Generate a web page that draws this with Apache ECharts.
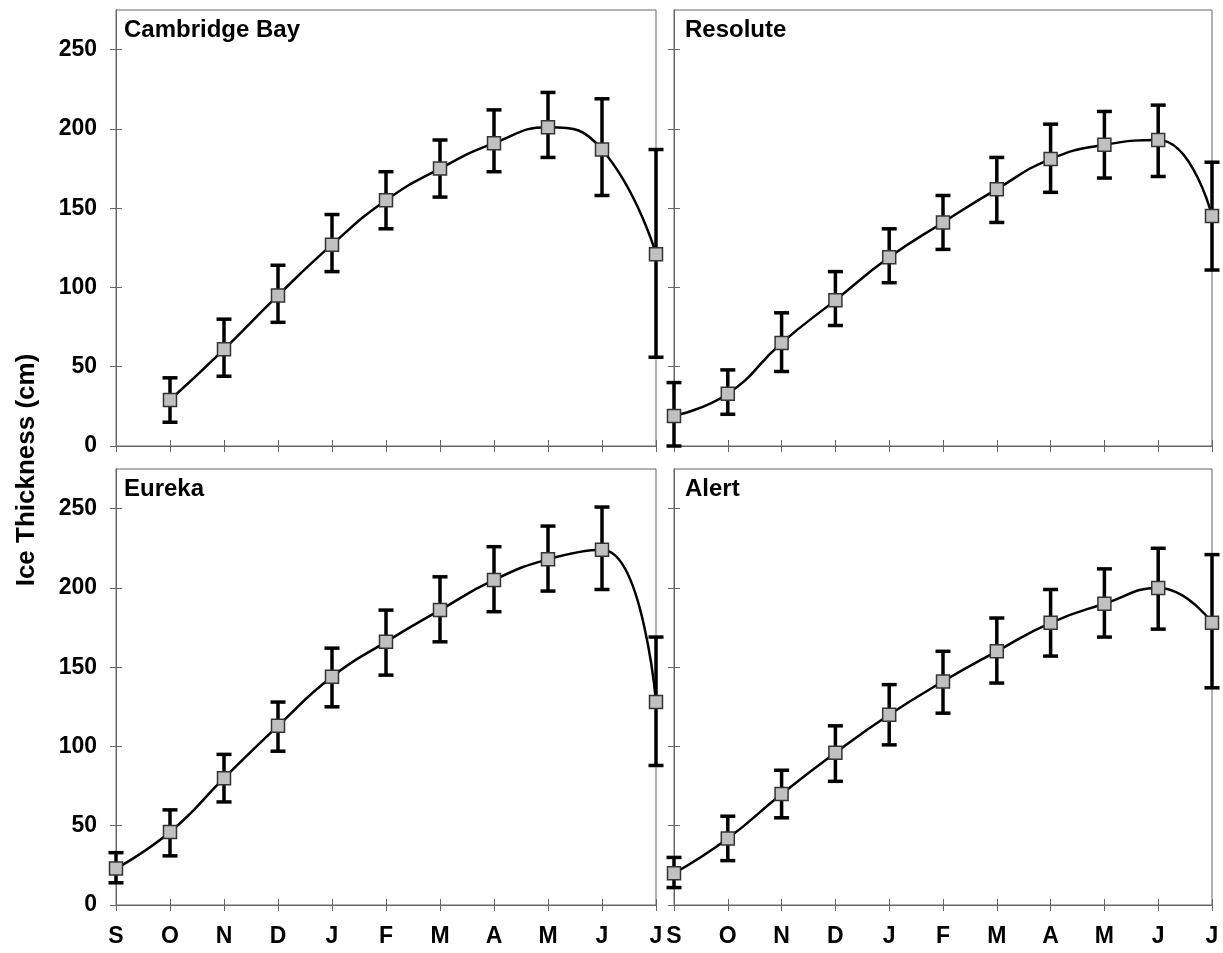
<!DOCTYPE html>
<html lang="en">
<head>
  <meta charset="UTF-8">
  <title>Ice Thickness</title>
  <script src="https://cdnjs.cloudflare.com/ajax/libs/echarts/6.0.0/echarts.min.js"></script>
  <style>
    body { margin: 0; background: #fff; }
    #main { width: 1223px; height: 953px; }
  </style>
</head>
<body>
  <div id="main"></div>
<script>
  // months Sept -> July
  const months = ['S', 'O', 'N', 'D', 'J', 'F', 'M', 'A', 'M', 'J', 'J'];
  const yTicks = [0, 50, 100, 150, 200, 250];
  const stations = ['Cambridge Bay', 'Resolute', 'Eureka', 'Alert'];

  // mean thickness (cm) and error bar ends
  const cambMean = [null, 29, 61, 95, 127, 155, 175, 191, 201, 187, 121];
  const cambLow  = [null, 15, 44, 78, 110, 137, 157, 173, 182, 158, 56];
  const cambHigh = [null, 43, 80, 114, 146, 173, 193, 212, 223, 219, 187];

  const resMean = [19, 33, 65, 92, 119, 141, 162, 181, 190, 193, 145];
  const resLow  = [0, 20, 47, 76, 103, 124, 141, 160, 169, 170, 111];
  const resHigh = [40, 48, 84, 110, 137, 158, 182, 203, 211, 215, 179];

  const eurMean = [23, 46, 80, 113, 144, 166, 186, 205, 218, 224, 128];
  const eurLow  = [14, 31, 65, 97, 125, 145, 166, 185, 198, 199, 88];
  const eurHigh = [33, 60, 95, 128, 162, 186, 207, 226, 239, 251, 169];

  const alertMean = [20, 42, 70, 96, 120, 141, 160, 178, 190, 200, 178];
  const alertLow  = [11, 28, 55, 78, 101, 121, 140, 157, 169, 174, 137];
  const alertHigh = [30, 56, 85, 113, 139, 160, 181, 199, 212, 225, 221];

  const means = [cambMean, resMean, eurMean, alertMean];
  const lows = [cambLow, resLow, eurLow, alertLow];
  const highs = [cambHigh, resHigh, eurHigh, alertHigh];

  const font = "'Liberation Sans', Arial, sans-serif";
  const axisColor = '#666';

  const grids = [
    { left: 116, width: 540, top: 10, height: 436 },
    { left: 674, width: 538, top: 10, height: 436 },
    { left: 116, width: 540, top: 469, height: 436 },
    { left: 674, width: 538, top: 469, height: 436 }
  ];

  var myChart = echarts.init(document.getElementById('main'));

  const xAxes = [], yAxes = [], series = [], titles = [];

  grids.forEach(function (g, i) {
    g.show = true;
    g.borderColor = axisColor;
    g.borderWidth = 1;
    const isBottom = i >= 2, isLeft = i % 2 === 0;
    // two axes per side: one with outside ticks + labels, one with inside ticks,
    // so ticks cross the axis line like in the original
    [false, true].forEach(function (inside) {
      xAxes.push({
        type: 'category', gridIndex: i, position: 'bottom', data: months,
        boundaryGap: false,
        axisLine: { onZero: false, lineStyle: { color: axisColor } },
        axisTick: { inside: inside, length: 6, interval: 0, lineStyle: { color: axisColor } },
        axisLabel: {
          show: isBottom && !inside, interval: 0, margin: 20,
          color: '#000', fontSize: 23, fontWeight: 'bold', fontFamily: font
        },
        splitLine: { show: false }
      });
      yAxes.push({
        type: 'value', gridIndex: i, position: 'left', min: 0, max: 275, interval: 50,
        axisLine: { show: true, onZero: false, lineStyle: { color: axisColor } },
        axisTick: { show: true, inside: inside, length: 6, customValues: yTicks, lineStyle: { color: axisColor } },
        axisLabel: {
          show: isLeft && !inside, margin: 19, customValues: yTicks,
          color: '#000', fontSize: 23, fontWeight: 'bold', fontFamily: font
        },
        splitLine: { show: false }
      });
    });
    const ax = 2 * i;

    titles.push({
      text: stations[i], left: g.left + (isLeft ? 8 : 11), top: g.top + 8,
      padding: 0,
      textStyle: { fontSize: 24, fontWeight: 'bold', color: '#000', fontFamily: font }
    });

    // error bars
    const bars = [];
    means[i].forEach(function (m, k) {
      if (m !== null) bars.push([k, lows[i][k], highs[i][k]]);
    });
    series.push({
      type: 'custom', xAxisIndex: ax, yAxisIndex: ax, z: 2,
      data: bars,
      renderItem: function (params, api) {
        const top = api.coord([api.value(0), api.value(2)]);
        const bot = api.coord([api.value(0), api.value(1)]);
        const w = 7.5;
        const st = { stroke: '#000', lineWidth: 3.5 };
        return {
          type: 'group',
          children: [
            { type: 'line', shape: { x1: top[0], y1: top[1], x2: bot[0], y2: bot[1] }, style: st },
            { type: 'line', shape: { x1: top[0] - w, y1: top[1], x2: top[0] + w, y2: top[1] }, style: st },
            { type: 'line', shape: { x1: bot[0] - w, y1: bot[1], x2: bot[0] + w, y2: bot[1] }, style: st }
          ]
        };
      }
    });

    series.push({
      type: 'line', xAxisIndex: ax, yAxisIndex: ax, z: 3,
      data: means[i],
      smooth: 0.5,
      symbol: 'rect', symbolSize: 13,
      lineStyle: { color: '#000', width: 2.5 },
      itemStyle: { color: '#c0c0c0', borderColor: '#333', borderWidth: 1.5 },
      emphasis: { disabled: true }
    });
  });

  const option = {
    animation: false,
    title: titles,
    grid: grids,
    xAxis: xAxes,
    yAxis: yAxes,
    series: series,
    graphic: [{
      type: 'text', x: 27, y: 470, rotation: Math.PI / 2,
      style: {
        text: 'Ice Thickness (cm)', align: 'center', verticalAlign: 'middle',
        font: "bold 26px 'Liberation Sans', Arial, sans-serif", fill: '#000'
      }
    }]
  };

  myChart.setOption(option);
</script>
</body>
</html>
